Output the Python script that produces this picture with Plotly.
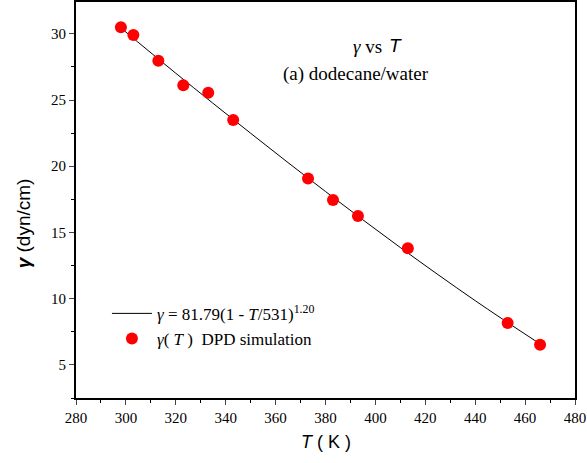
import plotly.graph_objects as go

# DPD simulation data
T_sim = [298, 303, 313, 323, 333, 343, 373, 383, 393, 413, 453, 466]
gamma_sim = [30.5, 29.9, 27.97, 26.12, 25.54, 23.49, 19.07, 17.45, 16.24, 13.81, 8.17, 6.52]

# Fitted curve gamma = 81.79(1 - T/531)^1.20
T_fit = [298, 320, 350, 380, 410, 440, 466]
gamma_fit = [30.44, 27.02, 22.49, 18.09, 13.86, 9.85, 6.58]

x_ticks = [280, 300, 320, 340, 360, 380, 400, 420, 440, 460, 480]
y_ticks = [5, 10, 15, 20, 25, 30]

serif = "'Liberation Serif', 'DejaVu Serif', serif"
sans = "'Liberation Sans', Arial, sans-serif"

fig = go.Figure()
fig.add_trace(go.Scatter(
    x=T_fit, y=gamma_fit, mode="lines", line=dict(color="black", width=1, shape="spline"),
    name="<i>γ</i> = 81.79(1 - <i>T</i>/531)<sup>1.20</sup>",
))
fig.add_trace(go.Scatter(
    x=T_sim, y=gamma_sim, mode="markers", marker=dict(color="#ff0000", size=12),
    name="<i>γ</i>( <i>T</i> )  DPD simulation",
))

fig.update_layout(
    width=587, height=463,
    margin=dict(l=76, r=12, t=0, b=65),
    plot_bgcolor="white", paper_bgcolor="white",
    showlegend=True,
    legend=dict(x=0.062, y=0.258, xanchor="left", yanchor="top",
                font=dict(family=serif, size=17, color="black"),
                bgcolor="rgba(0,0,0,0)", itemwidth=40, tracegroupgap=0),
    font=dict(family=serif, color="black"),
)
fig.update_xaxes(
    range=[280, 480], tickvals=x_ticks, ticks="outside", ticklen=5, tickwidth=1,
    tickfont=dict(family=serif, size=15, color="black"),
    showline=True, linecolor="black", linewidth=2, mirror=True,
    showgrid=False, zeroline=False,
    minor=dict(dtick=10, ticks="outside", ticklen=3, tickcolor="black"),
)
fig.update_yaxes(
    range=[2.5, 32.4], tickvals=y_ticks, ticks="outside", ticklen=5, tickwidth=1,
    tickfont=dict(family=serif, size=15, color="black"),
    showline=True, linecolor="black", linewidth=2, mirror=True,
    showgrid=False, zeroline=False,
    minor=dict(dtick=2.5, tick0=0, ticks="outside", ticklen=3, tickcolor="black"),
)

fig.add_annotation(
    text="<b><i>γ</i></b> (dyn/cm)", xref="paper", yref="paper",
    x=-0.105, y=0.44, xanchor="center", yanchor="middle", textangle=-90,
    showarrow=False, font=dict(family=sans, size=19, color="black"),
)
fig.add_annotation(
    text="<i>T</i> ( K )", xref="paper", yref="paper",
    x=0.5, y=-0.112, xanchor="center", yanchor="middle",
    showarrow=False, font=dict(family=sans, size=18, color="black"),
)
fig.add_annotation(
    text="<i>γ</i> vs",
    xref="paper", yref="paper", x=0.585, y=0.887, xanchor="center", yanchor="middle",
    showarrow=False, font=dict(family=serif, size=19, color="black"),
)
fig.add_annotation(
    text="<i>T</i>",
    xref="paper", yref="paper", x=0.64, y=0.889, xanchor="center", yanchor="middle",
    showarrow=False, font=dict(family=sans, size=19, color="black"),
)
fig.add_annotation(
    text="(a) dodecane/water",
    xref="paper", yref="paper", x=0.562, y=0.819, xanchor="center", yanchor="middle",
    showarrow=False, font=dict(family=serif, size=19, color="black"),
)

fig.write_html("out.html")
